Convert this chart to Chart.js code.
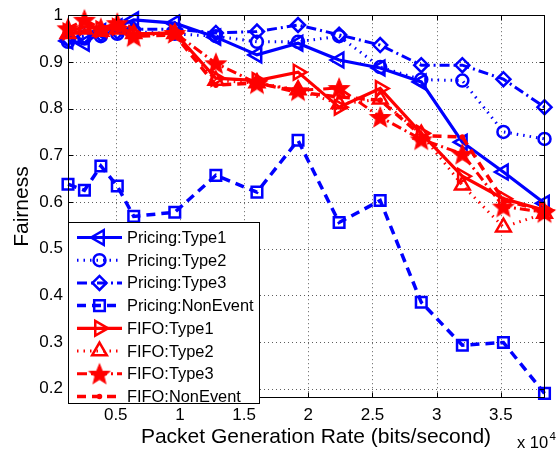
<!DOCTYPE html>
<html>
<head>
<meta charset="utf-8">
<script src="https://cdn.jsdelivr.net/npm/chart.js@4/dist/chart.umd.min.js"></script>
<style>
  html, body { margin: 0; padding: 0; background: #fff; }
  #c { display: block; }
</style>
</head>
<body>
<canvas id="c" width="557" height="450"></canvas>
<script>
// Packet generation rates (bits/second)
const rates = [1280, 2560, 3840, 5120, 6400, 9600, 12800, 16000, 19200, 22400, 25600, 28800, 32000, 35200, 38400];

// Axis ticks
const xTickValues = [5000, 10000, 15000, 20000, 25000, 30000, 35000];
const yTickValues = [0.2, 0.3, 0.4, 0.5, 0.6, 0.7, 0.8, 0.9, 1.0];

// Fairness per scheme and traffic type
const pricingType1    = [0.945, 0.940, 0.965, 0.975, 0.990, 0.983, 0.953, 0.915, 0.940, 0.904, 0.887, 0.857, 0.728, 0.664, 0.597];
const pricingType2    = [0.943, 0.950, 0.955, 0.960, 0.965, 0.960, 0.955, 0.943, 0.943, 0.955, 0.889, 0.862, 0.860, 0.750, 0.735];
const pricingType3    = [0.950, 0.955, 0.960, 0.965, 0.970, 0.970, 0.962, 0.965, 0.979, 0.958, 0.936, 0.893, 0.893, 0.863, 0.803];
const pricingNonEvent = [0.638, 0.625, 0.677, 0.634, 0.569, 0.578, 0.657, 0.621, 0.732, 0.556, 0.603, 0.385, 0.293, 0.299, 0.190];
const fifoType1       = [0.965, 0.975, 0.970, 0.975, 0.960, 0.962, 0.865, 0.860, 0.878, 0.803, 0.843, 0.747, 0.655, 0.607, 0.582];
const fifoType2       = [0.960, 0.970, 0.965, 0.970, 0.960, 0.960, 0.860, 0.855, 0.840, 0.810, 0.820, 0.745, 0.636, 0.546, 0.575];
const fifoType3       = [0.972, 0.990, 0.972, 0.983, 0.955, 0.962, 0.897, 0.854, 0.839, 0.844, 0.782, 0.734, 0.703, 0.590, 0.578];
const fifoNonEvent    = [0.960, 0.965, 0.965, 0.970, 0.955, 0.958, 0.850, 0.855, 0.835, 0.825, 0.818, 0.742, 0.739, 0.603, 0.582];

const BLUE = '#0000ff';
const RED = '#ff0000';
const FONT = '"Liberation Sans", Arial, Helvetica, sans-serif';

// Filled five-pointed star used as a point marker
function makeStar(color) {
  const size = 26, c = document.createElement('canvas');
  c.width = size; c.height = size;
  const g = c.getContext('2d');
  const cx = size / 2, cy = size / 2 + 1, ro = 10.5, ri = 4.6;
  g.beginPath();
  for (let i = 0; i < 10; i++) {
    const r = i % 2 ? ri : ro;
    const a = -Math.PI / 2 + i * Math.PI / 5;
    const px = cx + r * Math.cos(a), py = cy + r * Math.sin(a);
    i ? g.lineTo(px, py) : g.moveTo(px, py);
  }
  g.closePath();
  g.fillStyle = color; g.strokeStyle = color; g.lineWidth = 1.2;
  g.fill(); g.stroke();
  return c;
}
const redStar = makeStar(RED);

function series(label, values, color, dash, width, style, radius, rotation) {
  return {
    label,
    data: values.map((v, i) => ({ x: rates[i], y: v })),
    borderColor: color,
    backgroundColor: 'rgba(0,0,0,0)',
    borderWidth: width,
    borderDash: dash,
    pointStyle: style,
    pointRadius: radius,
    pointRotation: rotation || 0,
    pointBorderColor: color,
    pointBackgroundColor: style === 'circle' && radius < 3 ? color : 'rgba(0,0,0,0)',
    pointBorderWidth: 2.5,
    tension: 0,
    fill: false,
    clip: false
  };
}

const datasets = [
  series('Pricing:Type1', pricingType1, BLUE, [], 3.2, 'triangle', 8.5, -90),
  series('Pricing:Type2', pricingType2, BLUE, [1.5, 5], 3, 'circle', 6),
  series('Pricing:Type3', pricingType3, BLUE, [10, 4, 2, 4], 3, 'rectRot', 7),
  series('Pricing:NonEvent', pricingNonEvent, BLUE, [9, 6], 3.5, 'rect', 7.5),
  series('FIFO:Type1', fifoType1, RED, [], 3.2, 'triangle', 8.5, 90),
  series('FIFO:Type2', fifoType2, RED, [1.5, 5], 3, 'triangle', 8.5),
  series('FIFO:Type3', fifoType3, RED, [10, 4, 2, 4], 3, redStar, 10),
  series('FIFO:NonEvent', fifoNonEvent, RED, [9, 6], 3.5, 'circle', 1.5)
];
// later series are painted over earlier ones
datasets.forEach((d, i) => { d.order = 20 - i; });

// Dotted grid, axes box, inward tick marks, axis titles, exponent note and legend
const decorations = {
  id: 'decorations',
  beforeDatasetsDraw(chart) {
    const { ctx, chartArea: a, scales: { x, y } } = chart;
    ctx.save();
    ctx.strokeStyle = 'rgba(40,40,40,0.75)';
    ctx.lineWidth = 1;
    ctx.setLineDash([1, 3]);
    xTickValues.forEach(v => {
      const px = Math.round(x.getPixelForValue(v)) + 0.5;
      ctx.beginPath(); ctx.moveTo(px, a.top); ctx.lineTo(px, a.bottom); ctx.stroke();
    });
    yTickValues.forEach(v => {
      const py = Math.round(y.getPixelForValue(v)) + 0.5;
      ctx.beginPath(); ctx.moveTo(a.left, py); ctx.lineTo(a.right, py); ctx.stroke();
    });
    ctx.restore();
  },
  afterDatasetsDraw(chart) {
    const { ctx, chartArea: a, scales: { x, y } } = chart;
    ctx.save();
    ctx.strokeStyle = '#000';
    ctx.lineWidth = 1;
    ctx.setLineDash([]);
    const L = Math.round(a.left) + 0.5, R = Math.round(a.right) - 0.5;
    const T = Math.round(a.top) + 0.5, B = Math.round(a.bottom) - 0.5;
    ctx.strokeRect(L, T, R - L, B - T);
    const tl = 5;
    ctx.beginPath();
    xTickValues.forEach(v => {
      const px = Math.round(x.getPixelForValue(v)) + 0.5;
      ctx.moveTo(px, B); ctx.lineTo(px, B - tl);
      ctx.moveTo(px, T); ctx.lineTo(px, T + tl);
    });
    yTickValues.forEach(v => {
      const py = Math.round(y.getPixelForValue(v)) + 0.5;
      ctx.moveTo(L, py); ctx.lineTo(L + tl, py);
      ctx.moveTo(R, py); ctx.lineTo(R - tl, py);
    });
    ctx.stroke();

    // x-axis title
    ctx.fillStyle = '#000';
    ctx.font = '21px ' + FONT;
    ctx.textAlign = 'center';
    ctx.textBaseline = 'middle';
    ctx.fillText('Packet Generation Rate (bits/second)', 316, 437);

    // scale factor of the x axis
    ctx.textBaseline = 'alphabetic';
    ctx.textAlign = 'left';
    ctx.font = '16.5px ' + FONT;
    ctx.fillText('x 10', 517, 448);
    ctx.font = '11.5px ' + FONT;
    ctx.fillText('4', 549.5, 440);

    // legend
    const box = { x: 68.5, y: 222.5, w: 191, h: 181 };
    ctx.fillStyle = '#fff';
    ctx.fillRect(box.x, box.y, box.w, box.h);
    ctx.strokeStyle = '#000';
    ctx.lineWidth = 1;
    ctx.strokeRect(box.x, box.y, box.w, box.h);
    chart.data.datasets.forEach((d, i) => {
      const cy = 237.5 + i * 22.7;
      ctx.save();
      ctx.strokeStyle = d.borderColor;
      ctx.lineWidth = d.borderWidth;
      ctx.setLineDash(d.borderDash);
      ctx.beginPath(); ctx.moveTo(77, cy); ctx.lineTo(122, cy); ctx.stroke();
      ctx.setLineDash([]);
      ctx.strokeStyle = d.pointBorderColor;
      ctx.fillStyle = d.pointBackgroundColor;
      ctx.lineWidth = d.pointBorderWidth;
      Chart.helpers.drawPoint(ctx, {
        pointStyle: d.pointStyle, radius: d.pointRadius,
        rotation: d.pointRotation, borderWidth: d.pointBorderWidth
      }, 99.5, cy);
      ctx.restore();
      ctx.fillStyle = '#000';
      ctx.font = '16.4px ' + FONT;
      ctx.textBaseline = 'middle';
      ctx.fillText(d.label, 127, cy + 1);
    });
    ctx.restore();
  }
};

new Chart(document.getElementById('c'), {
  type: 'line',
  data: { datasets },
  options: {
    responsive: false,
    animation: false,
    devicePixelRatio: 1,
    layout: { padding: { left: 0, right: 1, top: 15, bottom: 0 } },
    plugins: { legend: { display: false }, tooltip: { enabled: false } },
    scales: {
      x: {
        type: 'linear',
        min: 1280,
        max: 38400,
        afterBuildTicks: s => { s.ticks = xTickValues.map(v => ({ value: v })); },
        afterFit: s => { s.height = 52; },
        grid: { display: false, drawTicks: false },
        border: { display: false },
        ticks: {
          autoSkip: false, maxRotation: 0, padding: 7, color: '#000',
          font: { family: FONT, size: 17 },
          callback: v => String(v / 10000)
        },
        title: { display: false }
      },
      y: {
        type: 'linear',
        min: 0.18,
        max: 1,
        afterBuildTicks: s => { s.ticks = yTickValues.map(v => ({ value: v })); },
        afterFit: s => { s.width = 68; },
        grid: { display: false, drawTicks: false },
        border: { display: false },
        ticks: {
          padding: 5, color: '#000',
          font: { family: FONT, size: 17 },
          callback: v => (v === 1 ? '1' : v.toFixed(1))
        },
        title: {
          display: true, text: 'Fairness', color: '#000',
          font: { family: FONT, size: 21 }, padding: { top: 9.4, bottom: 0 }
        }
      }
    }
  },
  plugins: [decorations]
});
</script>
</body>
</html>
